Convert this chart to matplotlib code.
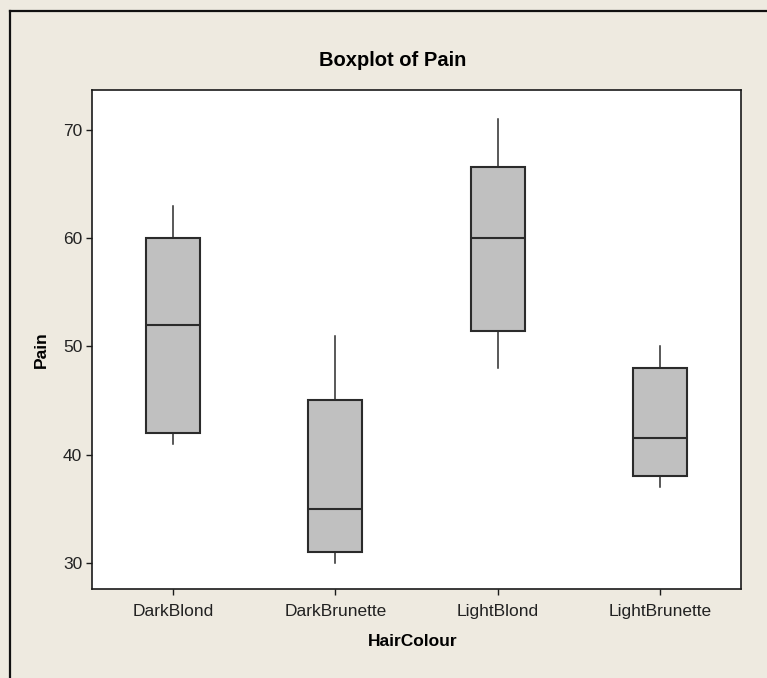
import matplotlib.pyplot as plt
from matplotlib.lines import Line2D

# Pain scores by hair colour: five-number summaries per group
hair_colours = ['DarkBlond', 'DarkBrunette', 'LightBlond', 'LightBrunette']
whisker_low = [41, 30, 48, 37]
q1 = [42, 31, 51.4, 38]
medians = [52, 35, 60, 41.5]
q3 = [60, 45, 66.6, 48]
whisker_high = [63, 51, 71, 50]
y_ticks = [30, 40, 50, 60, 70]

plt.rcParams['font.family'] = ['Liberation Sans', 'DejaVu Sans']

W, H = 767, 678
bg = '#eeeae0'
fig = plt.figure(figsize=(W / 100, H / 100), dpi=100, facecolor=bg)
ax = fig.add_axes([92 / W, 1 - 589 / H, (741 - 92) / W, (589 - 90) / H])
ax.set_facecolor('white')

stats = []
for i, name in enumerate(hair_colours):
    stats.append({
        'label': name,
        'whislo': whisker_low[i],
        'q1': q1[i],
        'med': medians[i],
        'q3': q3[i],
        'whishi': whisker_high[i],
        'fliers': [],
    })

edge = '#2b2b2b'
ax.bxp(stats, positions=range(1, len(hair_colours) + 1), widths=0.333,
       showcaps=False, showfliers=False, patch_artist=True,
       boxprops=dict(facecolor='#c0c0c0', edgecolor=edge, linewidth=1.5),
       medianprops=dict(color=edge, linewidth=1.5),
       whiskerprops=dict(color=edge, linewidth=1.1))

ax.set_xlim(0.5, 4.5)
ax.set_ylim(27.57, 73.7)
ax.set_yticks(y_ticks)
ax.set_xticks(range(1, len(hair_colours) + 1))
ax.set_xticklabels(hair_colours)

for s in ax.spines.values():
    s.set_color('#1a1a1a')
    s.set_linewidth(1.2)
ax.tick_params(axis='both', direction='out', length=4, width=1, color='#1a1a1a',
               labelsize=12.5, labelcolor='#222222')
ax.tick_params(axis='x', pad=7)
ax.tick_params(axis='y', pad=3)

fig.text(393 / W, 1 - 60 / H, 'Boxplot of Pain', ha='center', va='center',
         fontsize=14.5, fontweight='bold')
fig.text(413 / W, 1 - 642 / H, 'HairColour', ha='center', va='center',
         fontsize=12.5, fontweight='bold')
fig.text(41 / W, 1 - 350 / H, 'Pain', ha='center', va='center', rotation=90,
         fontsize=12.5, fontweight='bold')

# window frame along the top and left edges
fig.add_artist(Line2D([10 / W, 1], [1 - 11 / H, 1 - 11 / H], color='#111111', linewidth=1.6))
fig.add_artist(Line2D([10 / W, 10 / W], [0, 1 - 11 / H], color='#111111', linewidth=1.6))

fig.savefig('out.png', dpi=100, facecolor=bg)
